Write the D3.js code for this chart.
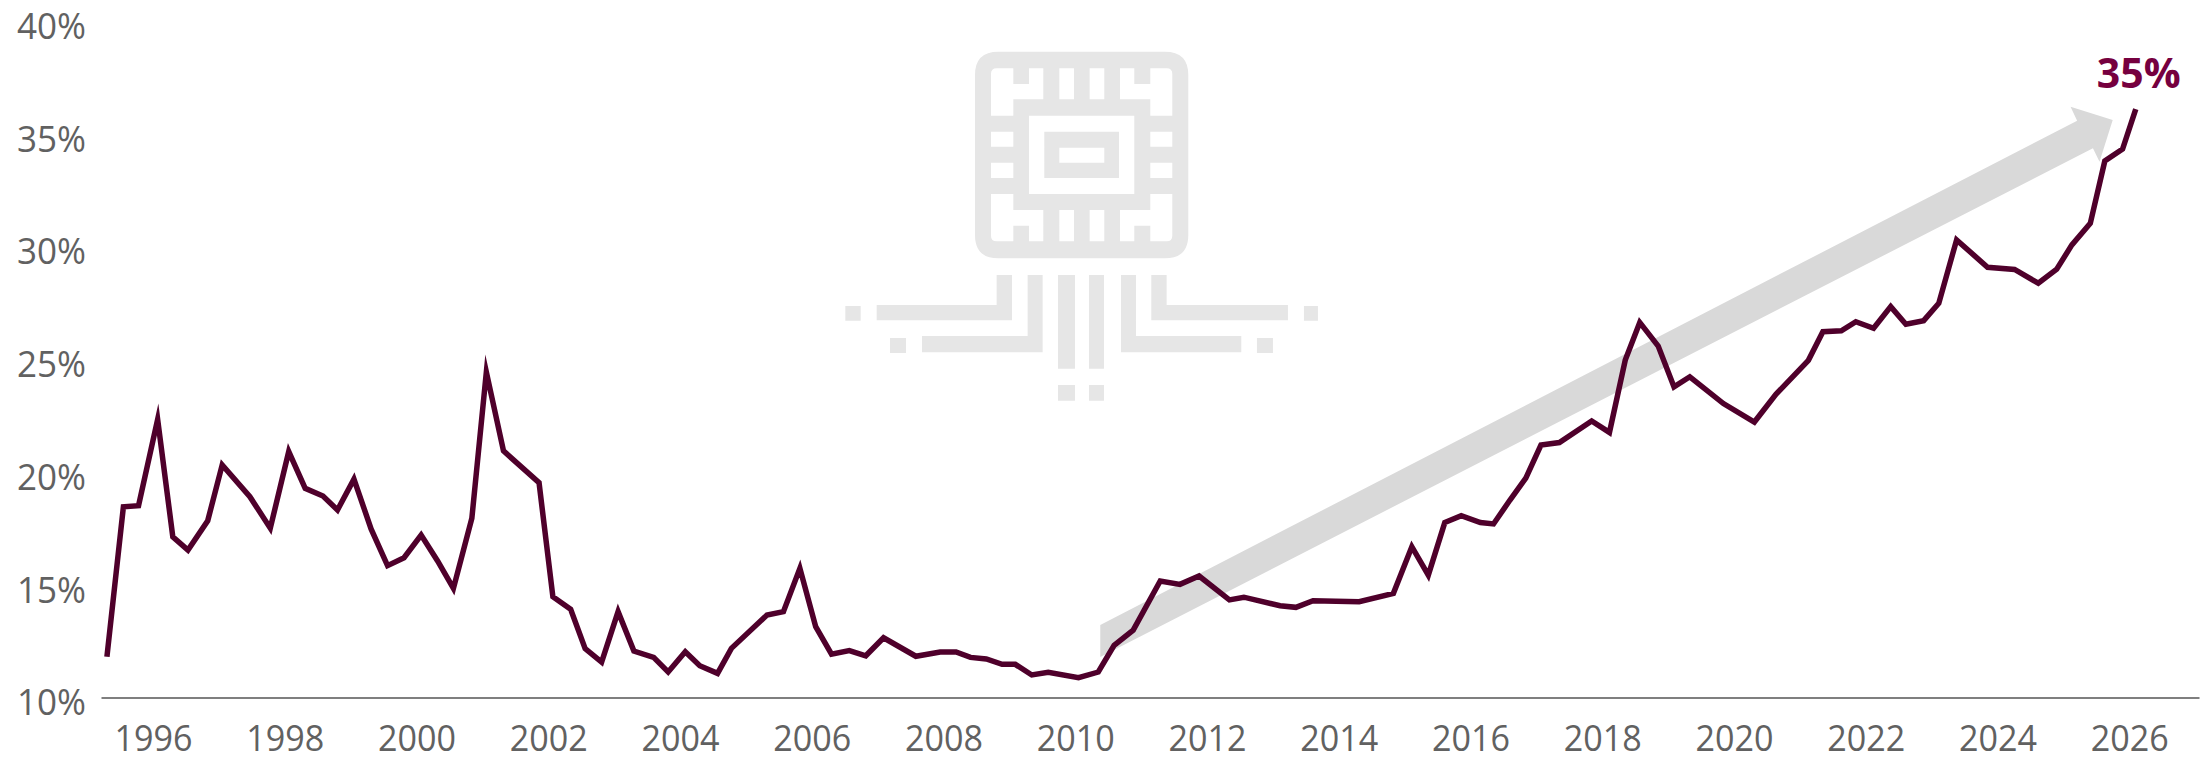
<!DOCTYPE html>
<html>
<head>
<meta charset="utf-8">
<style>
html,body{margin:0;padding:0;background:#fff;}
svg{display:block;}
text{font-family:"Open Sans",sans-serif;}
</style>
<script src="https://cdnjs.cloudflare.com/ajax/libs/d3/7.8.5/d3.min.js"></script>
</head>
<body>
<div id="chart"></div>
<script>
const years = [1995.30,1995.55,1995.78,1996.07,1996.30,1996.53,1996.83,1997.05,1997.47,1997.78,
1998.06,1998.31,1998.58,1998.80,1999.05,1999.31,1999.56,1999.81,2000.07,2000.32,
2000.56,2000.84,2001.06,2001.32,2001.86,2002.07,2002.34,2002.56,2002.81,2003.06,
2003.30,2003.60,2003.82,2004.08,2004.30,2004.57,2004.78,2005.32,2005.57,2005.82,
2006.06,2006.30,2006.57,2006.82,2007.09,2007.58,2007.95,2008.19,2008.41,2008.65,
2008.89,2009.09,2009.34,2009.59,2010.05,2010.35,2010.59,2010.88,2011.29,2011.59,
2011.88,2012.34,2012.56,2013.11,2013.35,2013.61,2014.31,2014.83,2015.11,2015.36,
2015.61,2015.86,2016.15,2016.35,2016.60,2016.84,2017.07,2017.35,2017.84,2018.11,
2018.35,2018.57,2018.85,2019.09,2019.33,2019.84,2020.31,2020.64,2021.13,2021.35,
2021.63,2021.85,2022.12,2022.38,2022.61,2022.88,2023.11,2023.38,2023.85,2024.26,
2024.62,2024.90,2025.13,2025.41,2025.63,2025.90,2026.10];
const shares = [11.81,18.46,18.51,22.34,17.13,16.54,17.84,20.32,18.91,17.51,
20.91,19.28,18.94,18.32,19.69,17.48,15.85,16.20,17.21,16.06,
14.84,17.95,24.44,20.94,19.53,14.47,13.91,12.17,11.57,13.81,
12.06,11.78,11.13,12.03,11.41,11.07,12.18,13.66,13.81,15.73,
13.14,11.92,12.08,11.85,12.65,11.83,12.02,12.02,11.78,11.71,
11.47,11.47,11.00,11.12,10.88,11.13,12.31,12.99,15.17,15.02,
15.39,14.33,14.45,14.07,14.00,14.29,14.25,14.62,16.69,15.43,
17.76,18.07,17.76,17.70,18.76,19.73,21.20,21.31,22.27,21.76,
24.97,26.64,25.59,23.78,24.23,23.04,22.22,23.46,24.96,26.23,
26.27,26.67,26.38,27.34,26.56,26.72,27.49,30.30,29.09,28.99,
28.38,29.00,30.08,31.04,33.80,34.33,36.10];
const xTickYears = [1996,1998,2000,2002,2004,2006,2008,2010,2012,2014,2016,2018,2020,2022,2024,2026];
const yTicks = [10,15,20,25,30,35,40];
const endLabel = "35%";
const arrowYears = [2010.38,2025.21,2025.11,2025.75,2025.55,2025.45,2010.38];
const arrowShares = [13.22,35.59,36.21,35.62,33.77,34.37,11.80];

const W = 2208, H = 757;
const svg = d3.select("#chart").append("svg").attr("width",W).attr("height",H).attr("viewBox",`0 0 ${W} ${H}`);
const x = d3.scaleLinear().domain([1995.21,2027.06]).range([101,2199]);
const y = d3.scaleLinear().domain([10,40]).range([697.5,21.3]);

/* decorative chip icon */
const chipPath = [
 "M535 65H1035Q1105 65 1105 135V615Q1105 685 1035 685H535Q465 685 465 615V135Q465 65 535 65Z",
 "M530 115H580V162H627V115H670V208H580V257H513V132Q513 115 530 115Z",
 "M718 115H762V208H718Z","M809 115H853V208H809Z",
 "M900 115H943V162H991V115H1040Q1057 115 1057 132V257H991V208H900Z",
 "M513 305H580V350H513Z","M513 398H580V444H513Z","M991 305H1057V350H991Z","M991 398H1057V444H991Z",
 "M513 492H580V540H670V634H627V587H580V634H530Q513 634 513 617Z",
 "M718 540H762V634H718Z","M809 540H853V634H809Z",
 "M900 540H991V492H1057V617Q1057 634 1040 634H991V587H943V634H900Z",
 "M627 257H943V492H627Z","M673 305H897V444H673Z","M718 353H853V398H718Z"
].join("");
const tracePath = [
 "M170 825H530V735H576V871H170Z","M76 828H122V872H76Z",
 "M306 918H623V735H668V967H306Z","M210 924H258V969H210Z",
 "M714 735H765V1016H714Z","M807 735H852V1016H807Z",
 "M714 1065H765V1112H714Z","M807 1065H852V1112H807Z",
 "M903 735H948V918H1264V967H903Z","M1311 924H1359V969H1311Z",
 "M994 735H1040V825H1404V871H994Z","M1452 828H1494V872H1452Z"
].join("");
const icon = svg.append("g").attr("transform","translate(820,30) scale(0.3333)");
icon.append("path").attr("d",chipPath).attr("fill","#e6e6e6").attr("fill-rule","evenodd");
icon.append("path").attr("d",tracePath).attr("fill","#e6e6e6");

/* trend arrow */
const arrowLine = d3.line().x(d=>x(d[0])).y(d=>y(d[1]));
svg.append("path")
  .attr("d",arrowLine(d3.zip(arrowYears,arrowShares))+"Z")
  .attr("fill","#d9d9d9");

/* axes */
const xAxis = d3.axisBottom(x).tickValues(xTickYears).tickFormat(d3.format("d")).tickSize(0).tickSizeOuter(0).tickPadding(28);
const gx = svg.append("g").attr("transform",`translate(0,${y(10)})`).call(xAxis);
gx.select(".domain").attr("stroke","#7f7f7f").attr("stroke-width",2);
gx.selectAll("text").attr("font-size",36).attr("font-weight",400).attr("fill","#616161")
  .attr("textLength",78).attr("lengthAdjust","spacingAndGlyphs")
  .style("font-family",'"Open Sans",sans-serif');

const yAxis = d3.axisLeft(y).tickValues(yTicks).tickFormat(d=>d+"%").tickSize(0).tickPadding(15);
const gy = svg.append("g").attr("transform","translate(101,0)").call(yAxis);
gy.select(".domain").remove();
gy.selectAll("text").attr("font-size",36).attr("font-weight",400).attr("dy","0.48em").attr("fill","#616161")
  .attr("textLength",69).attr("lengthAdjust","spacingAndGlyphs")
  .style("font-family",'"Open Sans",sans-serif');

/* series */
const line = d3.line().x(d=>x(d[0])).y(d=>y(d[1])).curve(d3.curveLinear);
svg.append("path")
  .attr("d",line(d3.zip(years,shares)))
  .attr("fill","none").attr("stroke","#4f002b").attr("stroke-width",5.5)
  .attr("stroke-linejoin","miter").attr("stroke-miterlimit",10);

svg.append("text")
  .attr("x",x(years[years.length-1])+3)
  .attr("y",y(shares[shares.length-1])-21)
  .attr("text-anchor","middle").attr("font-size",41).attr("font-weight",700)
  .attr("fill","#76003f").text(endLabel);
</script>
</body>
</html>
